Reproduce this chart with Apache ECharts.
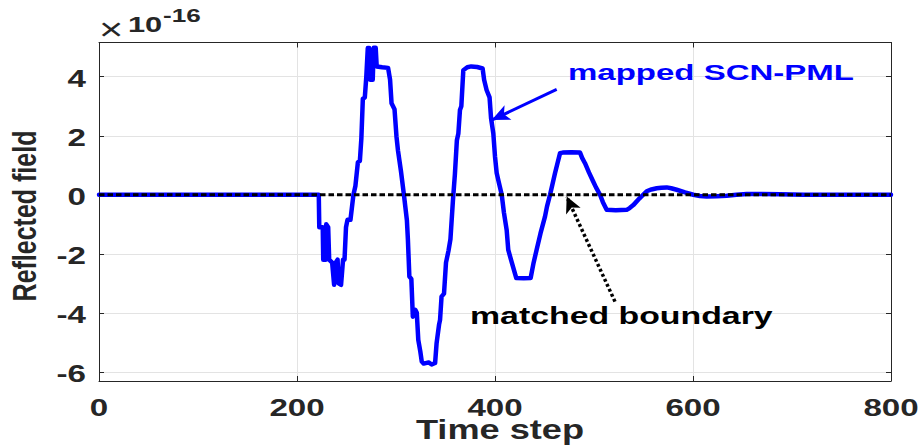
<!DOCTYPE html>
<html>
<head>
<meta charset="utf-8">
<script src="https://cdn.jsdelivr.net/npm/echarts@6/dist/echarts.min.js"></script>
<style>
  html, body { margin: 0; padding: 0; background: #ffffff; }
  #chart { width: 923px; height: 445px; }
</style>
</head>
<body>
<div id="chart"></div>
<script>
// Reflected field (in units of 1e-16) against FDTD time step
const timeSteps = [
  0, 222, 222.5, 226, 226.5, 229, 229.5, 231.5, 232.5, 235.5, 237.5, 239, 241, 242, 244.5, 246.5, 248, 249.5, 251, 254,
  257, 259, 261.5, 263.5, 265, 266.5, 268.5, 270, 271.5, 273, 274, 276.5, 277.5, 279.5, 280.5, 286, 292, 294, 295.5, 298.5,
  300.5, 302, 305, 308, 311, 312, 313.5, 315.5, 317, 319.5, 321, 322.5, 324.5, 326, 328, 333, 336, 339.5, 341, 343.5,
  344.5, 346, 348.5, 350.5, 353, 355, 357.5, 359.5, 361.5, 363, 364.6, 366, 368, 372, 376, 382, 387.5, 389, 391.5, 394.5,
  396, 398.3, 400, 401.7, 404, 406.8, 409, 411.8, 413.4, 417, 421.5, 429, 436, 439, 442, 446, 450.5, 452.5, 455.6, 458,
  460.6, 463, 465.7, 468.4, 477, 485.9, 488, 490.9, 495, 499.3, 502, 506.1, 509, 512.8, 522, 533, 536, 539.7, 546, 553.2,
  558, 563.3, 568, 573.4, 578, 583.5, 592, 600.3, 607, 613.8, 624, 634, 644, 654.2, 670, 687.9, 700, 712, 800
];
const reflectedField = [
  0, 0, -1.1, -1.1, -2.2, -2.2, -1.0, -1.1, -2.2, -2.3, -3.05, -2.3, -2.2, -3.0, -3.05, -2.2, -2.2, -1.1, -0.85, -0.85,
  0, 0.3, 1.1, 1.15, 1.9, 3.25, 3.3, 4.0, 4.97, 4.97, 3.9, 3.9, 4.98, 4.98, 4.35, 4.32, 4.3, 3.9, 3.1, 2.9,
  1.97, 1.5, 0.8, 0, -0.86, -1.5, -2.77, -2.85, -4.13, -3.9, -4.0, -4.92, -5.3, -5.65, -5.72, -5.68, -5.75, -5.7, -5.03, -4.4,
  -4.24, -3.45, -3.35, -2.3, -1.9, -1.5, -0.2, 0.7, 1.85, 2.08, 2.87, 3.0, 4.22, 4.32, 4.35, 4.33, 4.28, 3.9, 3.55, 3.3,
  2.6, 2.08, 1.3, 0.74, 0.4, 0, -0.6, -1.2, -1.87, -2.3, -2.82, -2.83, -2.82, -2.3, -1.87, -1.3, -0.74, -0.4, 0, 0.35,
  0.73, 1.05, 1.41, 1.43, 1.44, 1.43, 1.25, 1.07, 0.75, 0.44, 0.25, 0, -0.25, -0.51, -0.52, -0.51, -0.45, -0.35, -0.12, 0.12,
  0.18, 0.22, 0.24, 0.25, 0.22, 0.17, 0.08, 0, -0.04, -0.06, -0.05, -0.03, 0, 0.03, 0.03, 0.02, 0.01, 0, 0
];
const boundaryLevel = 0;
const xTickValues = [0, 200, 400, 600, 800];
const yTickValues = [-6, -4, -2, 0, 2, 4];
const xRange = [0, 800];
const yRange = [-6.31, 5.16];
const exponentLabel = '-16';
const xAxisTitle = 'Time step';
const yAxisTitle = 'Reflected field';
const pmlLabel = 'mapped SCN-PML';
const boundaryLabel = 'matched boundary';
// annotation arrows, [tail, head] in data units
const pmlArrow = [[462.3, 3.57], [396.7, 2.53]];
const boundaryArrow = [[521.2, -3.62], [472.4, -0.06]];

const fontFamily = "'Liberation Sans', Arial, Helvetica, sans-serif";
const inkColor = '#262626';

const chart = echarts.init(document.getElementById('chart'), null, { renderer: 'svg' });

const fieldPoints = timeSteps.map((t, i) => [t, reflectedField[i]]);

const boxAxis = (extra) => Object.assign({
  type: 'value',
  axisLine: { show: true, onZero: false, lineStyle: { color: inkColor, width: 1 } },
  axisTick: { show: true, inside: true, length: 5, lineStyle: { color: inkColor, width: 1 } },
  axisLabel: { show: false },
  splitLine: { show: false }
}, extra);

chart.setOption({
  animation: false,
  backgroundColor: '#ffffff',
  grid: { left: 99, right: 32, top: 42.5, bottom: 64, containLabel: false },
  xAxis: [
    boxAxis({ position: 'bottom', min: xRange[0], max: xRange[1], interval: 200,
      splitLine: { show: true, lineStyle: { color: '#e3e3e3', width: 1 } } }),
    boxAxis({ position: 'top', min: xRange[0], max: xRange[1], interval: 200 })
  ],
  yAxis: [
    boxAxis({ position: 'left', min: yRange[0], max: yRange[1],
      axisTick: { show: true, inside: true, length: 5, customValues: yTickValues, lineStyle: { color: inkColor, width: 1 } },
      splitLine: { show: true, lineStyle: { color: '#e3e3e3', width: 1 } } }),
    boxAxis({ position: 'right', min: yRange[0], max: yRange[1],
      axisTick: { show: true, inside: true, length: 5, customValues: yTickValues, lineStyle: { color: inkColor, width: 1 } } })
  ],
  series: [
    {
      name: pmlLabel,
      type: 'line',
      data: fieldPoints,
      showSymbol: false,
      smooth: false,
      z: 3,
      lineStyle: { color: '#0000ff', width: 4.5, join: 'round', cap: 'round' },
      markLine: {
        silent: true,
        symbol: ['none', 'arrow'],
        symbolSize: [12, 18],
        label: { show: false },
        lineStyle: { color: '#0000ff', width: 3, type: 'solid' },
        data: [[{ coord: pmlArrow[0] }, { coord: pmlArrow[1] }]]
      }
    },
    {
      name: boundaryLabel,
      type: 'line',
      data: [[xRange[0], boundaryLevel], [xRange[1], boundaryLevel]],
      showSymbol: false,
      z: 4,
      lineStyle: { color: '#000000', width: 3, type: [5.5, 3] },
      markLine: {
        silent: true,
        symbol: ['none', 'arrow'],
        symbolSize: [12, 16],
        label: { show: false },
        lineStyle: { color: '#000000', width: 3.5, type: [3, 2.5] },
        data: [[{ coord: boundaryArrow[0] }, { coord: boundaryArrow[1] }]]
      }
    }
  ]
});

// Text is drawn as graphic elements so it can be widened horizontally
function label(text, x, y, o) {
  return {
    type: 'text', x: x, y: y, silent: true, z: 10,
    scaleX: o.sx || 1, scaleY: o.sy || 1, rotation: o.rot || 0,
    style: {
      text: text, x: 0, y: 0,
      fill: o.color || inkColor,
      font: (o.weight || 'bold') + ' ' + o.size + 'px ' + fontFamily,
      textAlign: o.align || 'center', align: o.align || 'center',
      textVerticalAlign: o.valign || 'middle', verticalAlign: o.valign || 'middle'
    }
  };
}

const texts = [];
xTickValues.forEach(v => {
  const px = chart.convertToPixel({ xAxisIndex: 0 }, v);
  texts.push(label(String(v), px, 408, { size: 24, sx: 1.38 }));
});
yTickValues.forEach(v => {
  const py = chart.convertToPixel({ yAxisIndex: 0 }, v);
  texts.push(label(String(v), 86, py + 1.5, { size: 24, sx: 1.38, align: 'right' }));
});
texts.push(label(xAxisTitle, 500, 430, { size: 27, sx: 1.34 }));
texts.push(label(yAxisTitle, 25, 216, { size: 25, sy: 1.3, rot: Math.PI / 2 }));
texts.push(label('\u00d7', 99, 29, { size: 32, sx: 1.3, weight: 'normal', align: 'left' }));
texts.push(label('10', 128, 36, { size: 22, sx: 1.4, align: 'left', valign: 'bottom' }));
texts.push(label(exponentLabel, 163, 25, { size: 18, sx: 1.45, align: 'left', valign: 'bottom' }));
texts.push(label(pmlLabel, 568, 83.5, { size: 22, sx: 1.5, color: '#0000ff', align: 'left', valign: 'bottom' }));
texts.push(label(boundaryLabel, 470, 327, { size: 24, sx: 1.41, color: '#000000', align: 'left', valign: 'bottom' }));

chart.setOption({ graphic: { elements: texts } });
</script>
</body>
</html>
